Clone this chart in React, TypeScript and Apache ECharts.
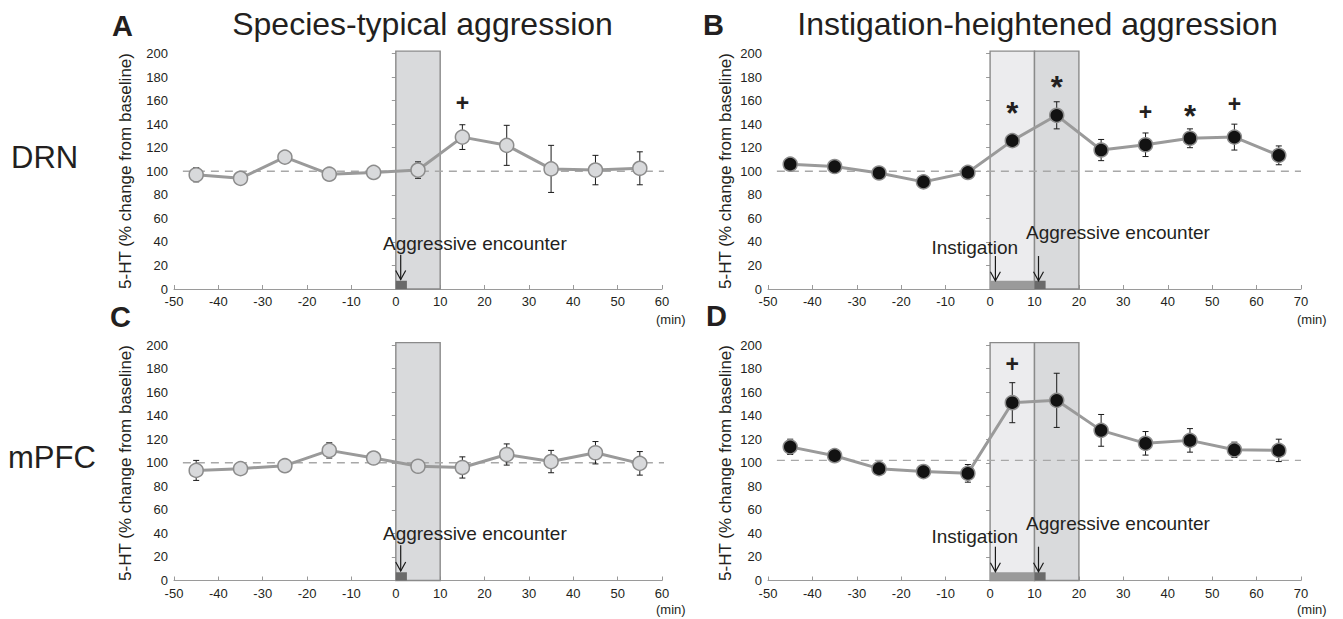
import React, { useEffect, useRef } from "react";
import * as echarts from "echarts";

// ---------- data ----------
const timesTypical = [-45, -35, -25, -15, -5, 5, 15, 25, 35, 45, 55];
const timesInstig = [-45, -35, -25, -15, -5, 5, 15, 25, 35, 45, 55, 65];

const drnTypical = [97, 94, 112, 97.5, 99, 101, 129, 122, 102, 101, 102.5];
const drnTypicalErr = [6, 2, 4.5, 2, 2, 7, 10.5, 17, 20, 12.5, 14];
const drnInstig = [106, 104, 98.5, 91, 99, 126, 147.5, 118, 122.5, 128, 129, 113.5];
const drnInstigErr = [3, 4, 2, 2, 2, 3, 11.5, 9, 10, 8, 11, 8];
const mpfcTypical = [93.5, 95, 97.5, 110.5, 104, 97, 96, 107, 101, 108.5, 99.5];
const mpfcTypicalErr = [8.5, 2, 2, 6.5, 3, 2, 9, 9, 9.5, 9.5, 10];
const mpfcInstig = [113.5, 106, 95, 92.5, 91, 151, 153, 127.5, 116.5, 119, 111, 110.5];
const mpfcInstigErr = [6.5, 2, 2, 3, 7.5, 17, 23, 13.5, 10, 10, 6.5, 9.5];

const xTicksTypical = { min: -50, max: 60, interval: 10 };
const xTicksInstig = { min: -50, max: 70, interval: 10 };
const yTicks = { min: 0, max: 200, interval: 20 };

const baselineTypical = [[-48, 100], [61.5, 100]];
const baselineDrnInstig = [[-48, 100], [70, 100]];
const baselineMpfcInstig = [[-48, 102], [70, 102]];

// shaded periods [start, end] (min)
const periodsTypical = [[0, 10]];
const periodsInstig = [[0, 10], [10, 20]];
// event bars on the x axis [start, end]
const barsTypical = [[0, 2.5]];
const barsInstig = [[0, 10], [10, 12.5]];
// arrows [x, yFrom, yTo]
const arrowsA = [[1.1, 29, 8]];
const arrowsB = [[1.2, 28, 7], [10.9, 28, 7]];
const arrowsC = [[1.1, 30, 8]];
const arrowsD = [[1.2, 28.7, 7.5], [10.9, 28.7, 7.5]];
// event labels [x, y, text]
const labelsA = [[-2.9, 39, "Aggressive encounter"]];
const labelsB = [[-13.2, 35, "Instigation"], [8.1, 48, "Aggressive encounter"]];
const labelsC = [[-2.9, 40, "Aggressive encounter"]];
const labelsD = [[-13.2, 37, "Instigation"], [8.1, 48.6, "Aggressive encounter"]];
// significance markers [x, y, symbol]
const sigA = [[15, 158, "+"]];
const sigB = [[5, 154, "*"], [15, 176, "*"], [35, 150, "+"], [45, 151.5, "*"], [55, 157.5, "+"]];
const sigC: any[] = [];
const sigD = [[5, 183.5, "+"]];

const panelLetters = ["A", "B", "C", "D"];
const titles = ["Species-typical aggression", "Instigation-heightened aggression"];
const regions = ["DRN", "mPFC"];
const yName = "5-HT (% change from baseline)";
const xUnit = "(min)";

// ---------- styles ----------
const FONT = "'Liberation Sans', Arial, Helvetica, sans-serif";
const TXT = "#231f20";
const AX = "#9a9a9a";

export default function App() {
  const ref = useRef<HTMLDivElement>(null);
  useEffect(() => {
    if (!ref.current) return;
    const chart = echarts.init(ref.current, null, { renderer: "svg" });

    const grids = [
      { left: 174, top: 53.5, width: 488, height: 235.5 },
      { left: 768, top: 53.5, width: 533, height: 235.5 },
      { left: 174, top: 345, width: 488, height: 235.5 },
      { left: 768, top: 345, width: 533, height: 235.5 },
    ];

    const panels = [
      { times: timesTypical, vals: drnTypical, errs: drnTypicalErr, x: xTicksTypical, base: baselineTypical, periods: periodsTypical, fills: ["#d9dadc"], bars: barsTypical, barFills: ["#6a6a6a"], arrows: arrowsA, labels: labelsA, sig: sigA, marker: "#d8d9db" },
      { times: timesInstig, vals: drnInstig, errs: drnInstigErr, x: xTicksInstig, base: baselineDrnInstig, periods: periodsInstig, fills: ["#ececee", "#d9dadc"], bars: barsInstig, barFills: ["#9a9a9a", "#6a6a6a"], arrows: arrowsB, labels: labelsB, sig: sigB, marker: "#121212" },
      { times: timesTypical, vals: mpfcTypical, errs: mpfcTypicalErr, x: xTicksTypical, base: baselineTypical, periods: periodsTypical, fills: ["#d9dadc"], bars: barsTypical, barFills: ["#6a6a6a"], arrows: arrowsC, labels: labelsC, sig: sigC, marker: "#d8d9db" },
      { times: timesInstig, vals: mpfcInstig, errs: mpfcInstigErr, x: xTicksInstig, base: baselineMpfcInstig, periods: periodsInstig, fills: ["#ececee", "#d9dadc"], bars: barsInstig, barFills: ["#9a9a9a", "#6a6a6a"], arrows: arrowsD, labels: labelsD, sig: sigD, marker: "#121212" },
    ];

    const xAxis: any[] = [];
    const yAxis: any[] = [];
    const series: any[] = [];

    panels.forEach((p, i) => {
      xAxis.push({
        gridIndex: i, type: "value", min: p.x.min, max: p.x.max, interval: p.x.interval,
        axisLine: { show: true, lineStyle: { color: AX, width: 1 } },
        axisTick: { show: true, inside: true, length: 4, lineStyle: { color: AX } },
        axisLabel: { color: TXT, fontSize: 13, fontFamily: FONT, margin: 6 },
        splitLine: { show: false },
      });
      yAxis.push({
        gridIndex: i, type: "value", min: yTicks.min, max: yTicks.max, interval: yTicks.interval,
        axisLine: { show: true, lineStyle: { color: AX, width: 1 } },
        axisTick: { show: true, length: 4, lineStyle: { color: AX } },
        axisLabel: { color: TXT, fontSize: 13, fontFamily: FONT, margin: 6 },
        splitLine: { show: false },
      });
      const common = { xAxisIndex: i, yAxisIndex: i, silent: true };
      // shaded periods
      series.push({
        ...common, type: "custom", z: 1, clip: false,
        data: p.periods,
        renderItem: (params: any, api: any) => {
          const a = api.coord([api.value(0), 0]);
          const b = api.coord([api.value(1), 202]);
          return {
            type: "rect",
            shape: { x: a[0], y: b[1], width: b[0] - a[0], height: a[1] - b[1] },
            style: { fill: p.fills[params.dataIndex], stroke: "#8a8a8a", lineWidth: 1.4 },
          };
        },
      });
      // baseline dashed
      series.push({
        ...common, type: "line", z: 2, data: p.base, symbol: "none",
        lineStyle: { color: "#a8a8a8", width: 1.4, type: [8, 6] },
      });
      // error bars
      series.push({
        ...common, type: "custom", z: 3, clip: false,
        data: p.times.map((t, k) => [t, p.vals[k] - p.errs[k], p.vals[k] + p.errs[k]]),
        renderItem: (params: any, api: any) => {
          const lo = api.coord([api.value(0), api.value(1)]);
          const hi = api.coord([api.value(0), api.value(2)]);
          const st = { stroke: "#1a1a1a", lineWidth: 1 };
          return {
            type: "group",
            children: [
              { type: "line", shape: { x1: lo[0], y1: lo[1], x2: hi[0], y2: hi[1] }, style: st },
              { type: "line", shape: { x1: lo[0] - 3, y1: lo[1], x2: lo[0] + 3, y2: lo[1] }, style: st },
              { type: "line", shape: { x1: hi[0] - 3, y1: hi[1], x2: hi[0] + 3, y2: hi[1] }, style: st },
            ],
          };
        },
      });
      // data line
      series.push({
        ...common, type: "line", z: 4,
        data: p.times.map((t, k) => [t, p.vals[k]]),
        symbol: "circle", symbolSize: 14,
        lineStyle: { color: "#9a9a9a", width: 3 },
        itemStyle: { color: p.marker, borderColor: "#8c8c8c", borderWidth: 1.5 },
      });
      // event bars
      series.push({
        ...common, type: "custom", z: 5, clip: false,
        data: p.bars,
        renderItem: (params: any, api: any) => {
          const a = api.coord([api.value(0), 0]);
          const b = api.coord([api.value(1), 7]);
          return {
            type: "rect",
            shape: { x: a[0], y: b[1], width: b[0] - a[0], height: a[1] - b[1] },
            style: { fill: p.barFills[params.dataIndex] },
          };
        },
      });
      // arrows
      series.push({
        ...common, type: "custom", z: 6, clip: false,
        data: p.arrows,
        renderItem: (params: any, api: any) => {
          const a = api.coord([api.value(0), api.value(1)]);
          const b = api.coord([api.value(0), api.value(2)]);
          const st = { stroke: "#1a1a1a", lineWidth: 1.2, fill: "none" };
          return {
            type: "group",
            children: [
              { type: "line", shape: { x1: a[0], y1: a[1], x2: b[0], y2: b[1] }, style: st },
              { type: "polyline", shape: { points: [[b[0] - 5, b[1] - 9], [b[0], b[1]], [b[0] + 5, b[1] - 9]] }, style: st },
            ],
          };
        },
      });
      // event labels
      series.push({
        ...common, type: "custom", z: 7, clip: false,
        data: p.labels.map((l: any) => [l[0], l[1]]),
        renderItem: (params: any, api: any) => {
          const c = api.coord([api.value(0), api.value(1)]);
          return {
            type: "text", x: c[0], y: c[1],
            style: { text: p.labels[params.dataIndex][2], fill: TXT, fontSize: 19, fontFamily: FONT, align: "left", verticalAlign: "middle" },
          };
        },
      });
      // significance markers
      series.push({
        ...common, type: "custom", z: 7, clip: false,
        data: p.sig.map((l: any) => [l[0], l[1]]),
        renderItem: (params: any, api: any) => {
          const c = api.coord([api.value(0), api.value(1)]);
          const sym = p.sig[params.dataIndex][2];
          const star = sym === "*";
          return {
            type: "text", x: c[0], y: c[1] + (star ? 6 : 0),
            style: { text: sym, fill: TXT, fontSize: star ? 31 : 23, fontWeight: "bold", fontFamily: FONT, align: "center", verticalAlign: "middle" },
          };
        },
      });
    });

    const txt = (text: string, x: number, y: number, size: number, extra: any = {}) => ({
      type: "text", x, y, silent: true,
      style: { text, fill: TXT, fontSize: size, fontFamily: FONT, align: "left", verticalAlign: "middle", ...extra },
    });

    const graphic: any[] = [
      txt(panelLetters[0], 112, 25.5, 29, { fontWeight: "bold" }),
      txt(panelLetters[1], 703, 24.5, 29, { fontWeight: "bold" }),
      txt(panelLetters[2], 110, 317, 29, { fontWeight: "bold" }),
      txt(panelLetters[3], 706, 316, 29, { fontWeight: "bold" }),
      txt(titles[0], 422.5, 24, 32, { align: "center" }),
      txt(titles[1], 1037.5, 24, 32, { align: "center" }),
      txt(regions[0], 11, 157, 31),
      txt(regions[1], 8, 457, 31),
      txt(xUnit, 656, 319, 13),
      txt(xUnit, 1297, 319, 13),
      txt(xUnit, 656, 609, 13),
      txt(xUnit, 1297, 609, 13),
      { ...txt(yName, 125, 171, 17, { align: "center" }), rotation: Math.PI / 2 },
      { ...txt(yName, 725, 171, 17, { align: "center" }), rotation: Math.PI / 2 },
      { ...txt(yName, 125, 463, 17, { align: "center" }), rotation: Math.PI / 2 },
      { ...txt(yName, 725, 463, 17, { align: "center" }), rotation: Math.PI / 2 },
    ];

    chart.setOption({
      animation: false,
      backgroundColor: "#ffffff",
      grid: grids,
      xAxis, yAxis, series, graphic,
    });
    return () => chart.dispose();
  }, []);
  return <div ref={ref} style={{ position: "fixed", left: 0, top: 0, width: 1343, height: 619 }} />;
}
